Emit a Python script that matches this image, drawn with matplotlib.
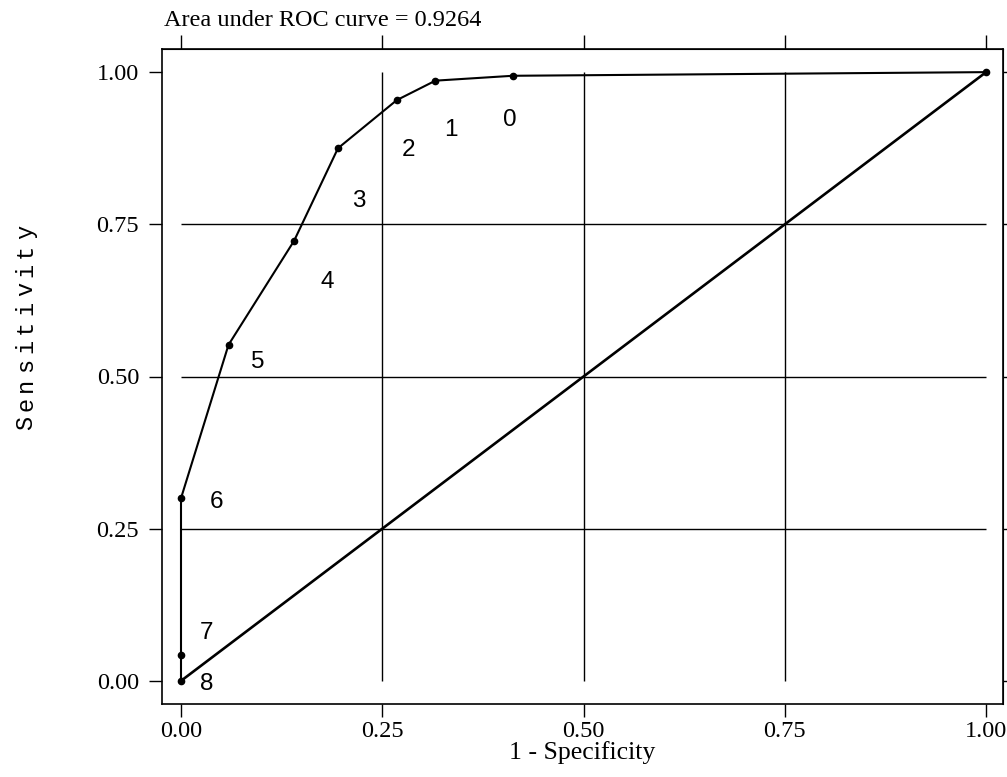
import matplotlib
matplotlib.use("Agg")
import matplotlib.pyplot as plt

# ROC points (1 - specificity, sensitivity), cut-off labels 8..0
fpr = [0.0, 0.0, 0.0, 0.059, 0.1405, 0.195, 0.268, 0.316, 0.412, 1.0]
tpr = [0.0, 0.043, 0.30, 0.552, 0.723, 0.875, 0.954, 0.986, 0.994, 1.0]
point_labels = ["8", "7", "6", "5", "4", "3", "2", "1", "0", ""]
# label offsets from their point, in pixels (right, up)
label_dx = [26, 25, 35, 29, 33, 21, 12, 15, -3, 0]
label_dy = [-3, 22, -4, -17, -41, -53, -50, -49, -44, 0]

ticks = [0.0, 0.25, 0.5, 0.75, 1.0]
tick_labels = ["0.00", "0.25", "0.50", "0.75", "1.00"]
grid_at = [0.25, 0.5, 0.75]
auc_text = "Area under ROC curve = 0.9264"
ylabel_text = "Sensitivity"

SERIF = "Liberation Serif"
SANS = "Liberation Sans"
MONO = "Liberation Mono"
W, H = 1007, 777

fig = plt.figure(figsize=(W / 100, H / 100), dpi=100)
ax = fig.add_axes([162 / W, 73 / H, 841 / W, 655 / H])

ax.hlines(grid_at, 0, 1, color="black", linewidth=1.0, zorder=1)
ax.vlines(grid_at, 0, 1, color="black", linewidth=1.0, zorder=1)
ax.plot([0, 1], [0, 1], color="black", linewidth=1.9, zorder=2)
ax.plot(fpr, tpr, color="black", linewidth=1.5, marker="o", markersize=4.5, zorder=3)

for x, y, lab, dx, dy in zip(fpr, tpr, point_labels, label_dx, label_dy):
    if lab:
        ax.annotate(lab, (x, y), xytext=(dx, dy), textcoords="offset pixels",
                    ha="center", va="center", fontsize=17.5, family=SANS)

ax.set_xlim(-0.0236, 1.021)
ax.set_ylim(-0.038, 1.038)
ax.set_xticks(ticks)
ax.set_xticklabels(tick_labels, family=SERIF, fontsize=17.5)
ax.set_yticks(ticks)
ax.set_yticklabels(tick_labels, family=SERIF, fontsize=17.5)
ax.tick_params(axis="x", direction="out", length=9.5, width=1.0, pad=3)
ax.tick_params(axis="y", direction="out", length=9.5, width=1.0, pad=7)
for sp in ax.spines.values():
    sp.set_linewidth(1.2)

top = ax.secondary_xaxis("top")
top.set_xticks(ticks)
top.set_xticklabels([])
top.tick_params(direction="out", length=10, width=1.0)
right = ax.secondary_yaxis("right")
right.set_yticks(ticks)
right.set_yticklabels([])
right.tick_params(direction="out", length=3, width=1.0)

ax.set_xlabel("1 - Specificity", family=SERIF, fontsize=18.5, labelpad=-1)

# letter-spaced y label, one glyph every 19 px going up
for i, ch in enumerate(ylabel_text):
    fig.text(32 / W, 1 - (422.7 - 19.1 * i) / H, ch, rotation=90,
             rotation_mode="anchor", ha="center", va="baseline",
             family=MONO, fontsize=17)

fig.text(164 / W, 1 - 26 / H, auc_text, ha="left", va="baseline",
         family=SERIF, fontsize=17.5)

fig.savefig("out.png", dpi=100)
